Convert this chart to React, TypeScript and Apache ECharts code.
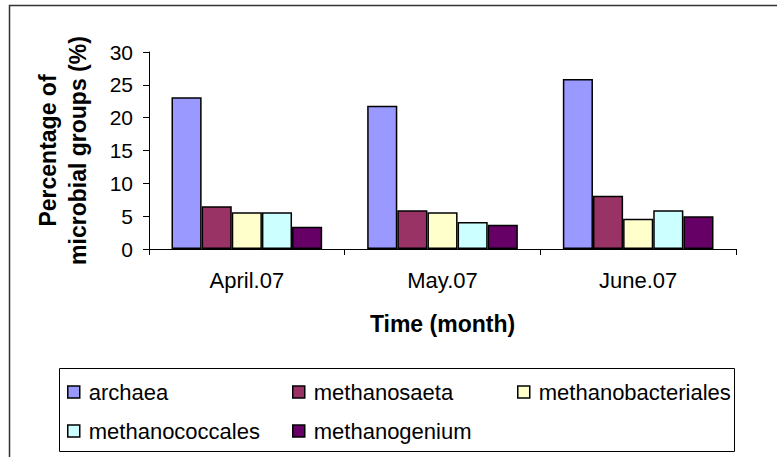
import React, { useEffect, useRef } from "react";
import * as echarts from "echarts";

const categories = ["April.07", "May.07", "June.07"];
const seriesNames = ["archaea", "methanosaeta", "methanobacteriales", "methanococcales", "methanogenium"];
const archaea = [23.1, 21.8, 25.9];
const methanosaeta = [6.5, 5.9, 8.1];
const methanobacteriales = [5.6, 5.6, 4.6];
const methanococcales = [5.6, 4.1, 5.9];
const methanogenium = [3.4, 3.7, 5.0];
const yTicks = { min: 0, max: 30, interval: 5 };

const colors = ["#9999FF", "#993366", "#FFFFCC", "#CCFFFF", "#660066"];
const values = [archaea, methanosaeta, methanobacteriales, methanococcales, methanogenium];

const FONT = "'Liberation Sans', Arial, sans-serif";

export default function App() {
  const ref = useRef<HTMLDivElement>(null);
  useEffect(() => {
    document.body.style.margin = "0";
    const chart = echarts.init(ref.current!, null, { renderer: "svg" });
    const legendPos = [
      { left: 67, top: 381 },
      { left: 292, top: 381 },
      { left: 517, top: 381 },
      { left: 67, top: 420 },
      { left: 292, top: 420 },
    ];
    chart.setOption({
      animation: false,
      backgroundColor: "#ffffff",
      textStyle: { fontFamily: FONT },
      graphic: [
        {
          type: "rect",
          shape: { x: 9.5, y: 5.5, width: 820, height: 500 },
          style: { fill: "none", stroke: "#333", lineWidth: 1.5 },
          silent: true,
          z: 0,
        },
        {
          type: "rect",
          shape: { x: 59.5, y: 368.5, width: 675, height: 83 },
          style: { fill: "none", stroke: "#000", lineWidth: 1 },
          silent: true,
          z: 0,
        },
      ],
      legend: seriesNames.map((n, i) => ({
        data: [n],
        left: legendPos[i].left,
        top: legendPos[i].top,
        padding: 0,
        itemWidth: 12,
        itemHeight: 12,
        icon: "rect",
        itemStyle: { borderColor: "#000", borderWidth: 1.5 },
        textStyle: { fontSize: 22, color: "#000", fontFamily: FONT, padding: [0, 0, 0, 4] },
        selectedMode: false,
      })),
      grid: { left: 149, top: 52, right: 41, bottom: 208, containLabel: false },
      xAxis: {
        type: "category",
        data: categories,
        name: "Time (month)",
        nameLocation: "middle",
        nameGap: 63,
        nameTextStyle: { fontSize: 23, fontWeight: "bold", color: "#000", fontFamily: FONT },
        axisLine: { lineStyle: { color: "#000", width: 1 } },
        axisTick: { show: true, length: 6, lineStyle: { color: "#000" } },
        axisLabel: { fontSize: 22, color: "#000", margin: 20, fontFamily: FONT },
      },
      yAxis: {
        type: "value",
        min: yTicks.min,
        max: yTicks.max,
        interval: yTicks.interval,
        name: "Percentage of\nmicrobial groups (%)",
        nameLocation: "middle",
        nameRotate: 90,
        nameGap: 56,
        nameTextStyle: { fontSize: 23, fontWeight: "bold", color: "#000", fontFamily: FONT, lineHeight: 30 },
        axisLine: { show: true, lineStyle: { color: "#000", width: 1 } },
        axisTick: { show: true, length: 6, lineStyle: { color: "#000" } },
        axisLabel: { fontSize: 21, color: "#000", margin: 16, fontFamily: FONT },
        splitLine: { show: false },
      },
      series: seriesNames.map((n, i) => ({
        name: n,
        type: "bar",
        data: values[i],
        barGap: "0%",
        barCategoryGap: "23%",
        itemStyle: { color: colors[i], borderColor: "#000", borderWidth: 1.5 },
      })),
    });
    return () => chart.dispose();
  }, []);
  return <div ref={ref} style={{ width: 777, height: 457 }} />;
}
